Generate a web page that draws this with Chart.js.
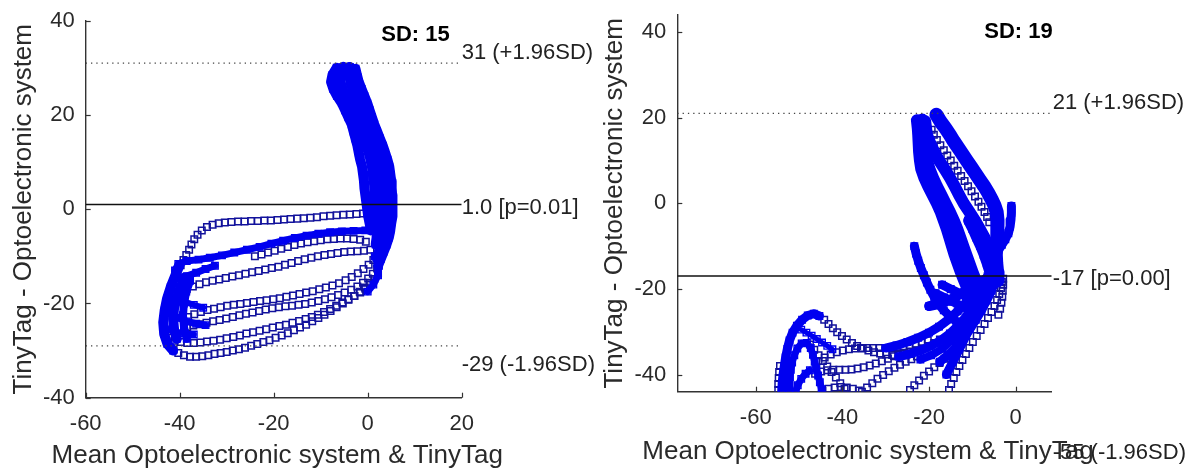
<!DOCTYPE html>
<html>
<head>
<meta charset="utf-8">
<script src="https://cdn.jsdelivr.net/npm/chart.js@4.4.1/dist/chart.umd.min.js"></script>
<style>
  html, body { margin: 0; padding: 0; background: #fff; }
  #wrap { position: relative; width: 1190px; height: 469px; overflow: hidden; background: #fff; }
  .panel { position: absolute; top: 0; width: 595px; height: 469px; }
  #pl { left: 0; }
  #pr { left: 595px; }
</style>
</head>
<body>
<div id="wrap">
  <div class="panel" id="pl"><canvas id="cl"></canvas></div>
  <div class="panel" id="pr"><canvas id="cr"></canvas></div>
</div>
<script>
// ---------- shared axis text ----------
const xTitle = 'Mean Optoelectronic system & TinyTag';
const yTitle = 'TinyTag - Optoelectronic system';

// ---------- left panel: scales and limits of agreement ----------
const leftXRange = [-60, 20];
const leftYRange = [-40, 40];
const leftXTicks = [-60, -40, -20, 0, 20];
const leftYTicks = [-40, -20, 0, 20, 40];
const leftMean = 1.0;
const leftUpper = 31;
const leftLower = -29;
const leftMeanText = '1.0 [p=0.01]';
const leftUpperText = '31 (+1.96SD)';
const leftLowerText = '-29 (-1.96SD)';
const leftSDText = 'SD: 15';

// left panel samples: dense upper arm
const leftArmA = [[-6.6,30],[-7.5,28.5],[-7.8,27],[-7.3,25.5],[-6.5,24],[-5.5,22.5],[-4.8,21],[-4.1,19.5],[-3.4,18],[-3.0,16.5],[-2.6,15],[-2.2,13.5],[-1.9,12],[-1.6,10.5],[-1.2,9],[-1.0,7.5],[-0.8,6],[-0.7,4.5],[-0.5,3],[-0.3,1.5],[-0.1,0],[0.1,-1.5],[0.4,-3],[0.7,-4.5]];
const leftArmB = [[-5.2,30.2],[-5.7,28.5],[-5.8,27],[-5.3,25.5],[-4.6,24],[-3.8,22.5],[-3.1,21],[-2.5,19.5],[-1.9,18],[-1.3,16.5],[-0.8,15],[-0.3,13.5],[0.2,12],[0.6,10.5],[0.9,9],[1.1,7.5],[1.3,6],[1.4,4.5],[1.5,3],[1.6,1.5],[1.7,0],[1.8,-1.5],[1.9,-3],[2.0,-4.5],[1.9,-6],[1.7,-7.5]];
const leftArmC = [[-3.8,30.2],[-3.9,28.5],[-3.7,27],[-3.2,25.5],[-2.6,24],[-1.9,22.5],[-1.3,21],[-0.7,19.5],[-0.1,18],[0.5,16.5],[1.0,15],[1.5,13.5],[2.0,12],[2.4,10.5],[2.8,9],[3.0,7.5],[3.2,6],[3.3,4.5],[3.4,3],[3.5,1.5],[3.5,0],[3.5,-1.5],[3.4,-3],[3.3,-4.5],[3.1,-6],[2.8,-7.5],[2.4,-9],[2.0,-10.5]];
const leftArmD = [[-2.6,29.8],[-2.3,28.5],[-1.9,27],[-1.3,25.5],[-0.7,24],[-0.1,22.5],[0.4,21],[0.9,19.5],[1.4,18],[2.0,16.5],[2.6,15],[3.2,13.5],[3.7,12],[4.2,10.5],[4.6,9],[4.8,7.5],[5.0,6],[5.1,4.5],[5.2,3],[5.3,1.5],[5.3,0],[5.2,-1.5],[5.0,-3],[4.8,-4.5],[4.5,-6],[4.0,-7.5],[3.4,-9],[2.8,-10.5],[2.2,-12]];
const leftTail = [[1.5,-10],[2.4,-12],[2.2,-14],[1.2,-16],[0,-17.5]];

// left panel samples: dense return band and left-hand turn
const leftBand = [[-41,-13],[-40.3,-11.6],[-38.5,-11],[-36,-10.7],[-33.6,-10.3],[-31,-9.8],[-28.4,-9.2],[-25.7,-8.6],[-23,-8],[-20.5,-7.3],[-18,-6.7],[-15.5,-6.1],[-13,-5.6],[-10.5,-5.2],[-8,-4.9],[-5.5,-4.7],[-3,-4.6],[-0.5,-4.5]];
const leftTurnA = [[-40.0,-11.8],[-40.9,-14],[-41.9,-16.5],[-42.7,-19],[-43.2,-21.5],[-43.5,-24],[-43.3,-26.5],[-42.6,-28.6],[-41.4,-30]];
const leftTurnB = [[-38.8,-14.5],[-39.8,-16.5],[-40.6,-18.8],[-41.2,-21],[-41.4,-23.3],[-41.2,-25.5],[-40.6,-27.5]];
const leftTurnC = [[-37.8,-15.2],[-38.6,-17.5],[-39.1,-20],[-39.3,-22.5],[-39.1,-25],[-38.5,-27.5]];
const leftKnotA = [[-40.5,-14.5],[-38.5,-14.2],[-36.5,-13.5],[-34.5,-12.7],[-32.5,-12]];
const leftKnotB = [[-42.5,-22],[-40.5,-23],[-38.5,-23.8],[-36.5,-24.3],[-34.5,-24.6]];
const leftKnotC = [[-43,-25.5],[-41,-26],[-39,-26.3],[-37,-26.6]];
const leftKnotD = [[-41,-19],[-39,-19.6],[-37,-20.3],[-35,-20.9]];

// left panel samples: open loops
const leftLoop1 = [[-1,-0.9],[-2.4,-1.0],[-3.8,-1.1],[-5.2,-1.2],[-6.6,-1.3],[-8,-1.4],[-9.4,-1.5],[-10.8,-1.7],[-12.2,-1.8],[-13.6,-1.9],[-15,-2.0],[-16.4,-2.1],[-17.8,-2.2],[-19.2,-2.3],[-20.6,-2.4],[-22,-2.4],[-23.4,-2.5],[-24.8,-2.5],[-26.2,-2.6],[-27.6,-2.6],[-29,-2.7],[-30.4,-2.8],[-31.7,-3.0],[-33,-3.3],[-34.2,-3.8],[-35.3,-4.5],[-36.2,-5.4],[-36.9,-6.4],[-37.5,-7.5],[-38,-8.6],[-38.6,-9.7],[-39.2,-10.8],[-39.8,-11.9]];
const leftLoop2 = [[-24,-10],[-22.6,-9.6],[-21.2,-9.2],[-19.8,-8.8],[-18.4,-8.4],[-17,-8],[-15.6,-7.6],[-14.2,-7.3],[-12.8,-7],[-11.4,-6.8],[-10,-6.6],[-8.6,-6.4],[-7.2,-6.3],[-5.8,-6.2],[-4.4,-6.2],[-3,-6.3],[-1.6,-6.5],[-0.4,-6.9]];
const leftLoop3 = [[0.6,-8.6],[-0.8,-8.8],[-2.2,-8.9],[-3.6,-9.0],[-5,-9.1],[-6.4,-9.3],[-7.8,-9.5],[-9.2,-9.7],[-10.6,-10.0],[-12,-10.3],[-13.4,-10.6],[-14.8,-11.0],[-16.2,-11.4],[-17.6,-11.8],[-19,-12.2],[-20.4,-12.5],[-21.8,-12.8],[-23.2,-13.1],[-24.6,-13.4],[-26,-13.7],[-27.4,-14.0],[-28.8,-14.3],[-30.2,-14.6],[-31.6,-14.9],[-33,-15.2],[-34.4,-15.5],[-35.8,-15.9],[-37.2,-16.4],[-38.5,-17]];
const leftLoop4 = [[1.2,-10.8],[0.2,-11.8],[-0.9,-12.7],[-2.1,-13.6],[-3.4,-14.4],[-4.7,-15.1],[-6.1,-15.7],[-7.5,-16.2],[-8.9,-16.6],[-10.3,-17.0],[-11.7,-17.4],[-13.1,-17.7],[-14.5,-18.0],[-15.9,-18.3],[-17.3,-18.6],[-18.7,-18.9],[-20.1,-19.1],[-21.5,-19.3],[-22.9,-19.5],[-24.3,-19.7],[-25.7,-19.9],[-27.1,-20.1],[-28.5,-20.3],[-29.9,-20.5],[-31.3,-20.8],[-32.7,-21.1],[-34.1,-21.4],[-35.5,-21.8],[-36.9,-22.3],[-38.2,-22.9]];
const leftLoop5 = [[2.0,-12.6],[1.1,-13.7],[0.1,-14.7],[-1,-15.6],[-2.2,-16.4],[-3.5,-17.1],[-4.9,-17.7],[-6.3,-18.2],[-7.7,-18.7],[-9.1,-19.1],[-10.5,-19.5],[-11.9,-19.8],[-13.3,-20.1],[-14.7,-20.3],[-16.1,-20.5],[-17.5,-20.6],[-18.9,-20.8],[-20.3,-21.0],[-21.7,-21.3],[-23.1,-21.6],[-24.5,-21.9],[-25.9,-22.2],[-27.3,-22.5],[-28.7,-22.9],[-30.1,-23.2],[-31.5,-23.5],[-32.9,-23.8],[-34.3,-24.1],[-35.7,-24.4],[-37.1,-24.7],[-38.4,-25]];
const leftLoop6 = [[2.2,-13.6],[1.4,-14.8],[0.5,-15.9],[-0.5,-16.9],[-1.6,-17.7],[-2.8,-18.4],[-4.1,-19.1],[-5.4,-19.8],[-6.7,-20.5],[-8,-21.2],[-9.3,-21.8],[-10.6,-22.4],[-11.9,-22.9],[-13.2,-23.3],[-14.6,-23.7],[-16,-24.1],[-17.4,-24.5],[-18.8,-24.8],[-20.2,-25.1],[-21.6,-25.5],[-23,-25.8],[-24.4,-26.1],[-25.8,-26.4],[-27.2,-26.8],[-28.6,-27.1],[-30,-27.4],[-31.4,-27.7],[-32.8,-27.9],[-34.2,-28.1],[-35.6,-28.3],[-37,-28.4],[-38.4,-28.4],[-39.8,-28.2],[-41.1,-27.9],[-42.3,-27.3]];
const leftLoop7 = [[0.5,-15.6],[-0.6,-16.6],[-1.7,-17.5],[-2.9,-18.4],[-4.1,-19.2],[-5.3,-20],[-6.6,-20.8],[-7.9,-21.6],[-9.2,-22.4],[-10.5,-23.1],[-11.8,-23.8],[-13.1,-24.5],[-14.4,-25.1],[-15.7,-25.7],[-17,-26.3],[-18.3,-26.8],[-19.6,-27.3],[-20.9,-27.8],[-22.2,-28.2],[-23.5,-28.6],[-24.8,-29],[-26.1,-29.4],[-27.4,-29.7],[-28.7,-30],[-30,-30.3],[-31.3,-30.5],[-32.6,-30.7],[-33.9,-31],[-35.2,-31.2],[-36.5,-31.3],[-37.8,-31.3],[-39.1,-31],[-40.3,-30.5],[-41.3,-29.8]];

// ---------- right panel: scales and limits of agreement ----------
const rightXRange = [-78.1, 8.3];
const rightYRange = [-44, 44];
const rightXTicks = [-60, -40, -20, 0];
const rightYTicks = [-40, -20, 0, 20, 40];
const rightMean = -17;
const rightUpper = 21;
const rightLower = -55;
const rightMeanText = '-17 [p=0.00]';
const rightUpperText = '21 (+1.96SD)';
const rightLowerText = '-55 (-1.96SD)';
const rightSDText = 'SD: 19';

// right panel samples: dense diagonal bands
const rightBandA = [[-22.8,19.4],[-22.6,17.5],[-22.5,16],[-22.4,14],[-22.3,12],[-22.1,10],[-21.8,8],[-21.1,6],[-20.2,4],[-19.2,2],[-18.2,0],[-17.3,-2],[-16.6,-4],[-15.9,-6],[-15.3,-8],[-14.7,-10],[-14.1,-12],[-13.4,-14],[-12.7,-16],[-11.9,-18],[-11.1,-20],[-10.3,-22],[-9.6,-24]];
const rightBandB = [[-21.6,19.6],[-21.8,16],[-21.4,14],[-21.0,12],[-20.5,10],[-19.9,8],[-19.1,6],[-18.2,4],[-17.2,2],[-16.2,0],[-15.2,-2],[-14.3,-4],[-13.5,-6],[-12.8,-8],[-12.1,-10],[-11.4,-12],[-10.7,-14],[-10,-16],[-9.2,-18],[-8.4,-20],[-7.6,-22]];
const rightBandC = [[-20.9,19.2],[-20.5,16],[-19.7,14],[-18.8,12],[-17.7,10],[-16.4,8],[-15.2,6],[-14.1,4],[-13.1,2],[-12.0,0],[-10.7,-2],[-9.4,-4],[-8.3,-6],[-7.2,-8],[-6.4,-10],[-5.8,-12],[-5.3,-14],[-5.0,-16],[-4.8,-18.5]];
const rightBandE = [[-11.0,-4],[-10.0,-6],[-9.1,-8],[-8.2,-10],[-7.4,-12],[-6.7,-14],[-6.1,-16]];
const rightBandD = [[-18.3,20.7],[-17.3,19],[-16.2,17.5],[-15.2,16],[-14.3,14.5],[-13.3,13],[-12.3,11.5],[-11.3,10],[-10.3,8.5],[-9.3,7],[-8.3,5.5],[-7.3,4],[-6.4,2.5],[-5.6,1],[-4.9,-0.5],[-4.4,-2],[-4.2,-4],[-4.2,-6],[-4.3,-8],[-4.5,-10],[-4.6,-12],[-4.5,-14],[-4.3,-16],[-4.2,-18]];
const rightHook = [[-1.0,-0.6],[-1.0,-2.2],[-1.1,-3.8],[-1.3,-5.4],[-1.7,-7],[-2.4,-8.4],[-3.2,-9.7],[-4.0,-11]];
const rightStrand = [[-23.4,-10],[-23.0,-11.7],[-22.5,-13.4],[-21.9,-15.1],[-21.2,-16.8],[-20.5,-18.5],[-19.7,-20.2],[-18.8,-21.9],[-17.8,-23.5],[-16.6,-25],[-15.2,-26.4],[-13.7,-27.6]];
const rightFanA = [[-30,-33.8],[-27.5,-33.2],[-25,-32.4],[-22.5,-31.4],[-20,-30.2],[-17.7,-28.8],[-15.5,-27.1],[-13.4,-25.2],[-11.5,-23.2],[-9.7,-21.1],[-8,-19],[-6.5,-17]];
const rightFanB = [[-27,-35.8],[-24.5,-35.2],[-22,-34.4],[-19.6,-33.3],[-17.3,-32],[-15.2,-30.4],[-13.2,-28.5],[-11.4,-26.4],[-9.7,-24.2],[-8.2,-22],[-6.8,-19.7],[-5.6,-17.4]];
const rightFanC = [[-17.5,-37],[-15.6,-35.4],[-13.8,-33.6],[-12.1,-31.6],[-10.6,-29.4],[-9.2,-27.2],[-7.9,-25],[-6.7,-22.7],[-5.6,-20.4],[-4.7,-18.1]];
const rightFanD = [[-20,-24],[-17.5,-23.5],[-15,-22.5],[-12.5,-21],[-10,-19.5],[-7.5,-18],[-5,-17]];
const rightFanE = [[-16,-40],[-14.5,-37],[-13,-34],[-11.5,-31],[-10,-28],[-8.5,-25],[-7,-22],[-5.5,-19.5]];
const rightFanF = [[-22,-36.5],[-19.5,-35.5],[-17,-34],[-14.8,-32],[-12.8,-29.8],[-11,-27.5],[-9.4,-25],[-8,-22.5],[-6.5,-20]];
const rightFanG = [[-18.5,-21],[-16.5,-22],[-14.5,-23],[-12.5,-24],[-10.5,-25]];
const rightFanH = [[-17,-19],[-15,-20],[-13,-21],[-11,-22],[-9,-22.5]];
const rightArchOuter = [[-54,-44],[-53.9,-42],[-53.7,-40],[-53.4,-38],[-53.1,-36],[-52.7,-34],[-52.2,-32],[-51.5,-30.2],[-50.5,-28.6],[-49.3,-27.2],[-48,-26.2],[-46.6,-25.8],[-45.3,-26.3]];
const rightArchInner = [[-52.2,-44],[-52.2,-42.3],[-52.1,-40.6],[-51.9,-38.9],[-51.6,-37.2],[-51.1,-35.5],[-50.4,-33.9],[-49.4,-32.7],[-48.2,-32.6],[-47.3,-33.8],[-46.8,-35.4],[-46.4,-37],[-46,-38.6],[-45.6,-40.2],[-45.2,-41.8],[-44.8,-43.4]];
const rightArchBase = [[-50.8,-44],[-50.3,-42.5],[-49.5,-41],[-48.5,-39.8],[-47.5,-39]];
const rightArchCross = [[-49.5,-29.5],[-48.3,-30.2],[-47.1,-30.9],[-45.9,-31.7],[-44.7,-32.5],[-43.5,-33.3],[-42.3,-34.1]];

// right panel samples: open trails
const rightChain = [[-19.4,17.2],[-18.9,16],[-18.2,14.8],[-17.4,13.6],[-16.6,12.4],[-15.8,11.2],[-15.0,10],[-14.2,8.8],[-13.4,7.6],[-12.6,6.4],[-11.8,5.2],[-11.0,4],[-10.2,2.8],[-9.4,1.6],[-8.6,0.4],[-7.9,-0.8],[-7.2,-2],[-6.6,-3.2],[-6.1,-4.4]];
const rightEdge = [[-2.9,-17.6],[-2.9,-19],[-3,-20.4],[-3.1,-21.8],[-3.3,-23.2],[-3.6,-24.6],[-4,-26]];
const rightDescent = [[-15.4,-43.6],[-14.9,-42.2],[-14.3,-40.8],[-13.7,-39.4],[-13,-38],[-12.3,-36.6],[-11.5,-35.2],[-10.7,-33.8],[-9.9,-32.4],[-9,-31],[-8.1,-29.6],[-7.2,-28.2],[-6.4,-26.8],[-5.6,-25.4],[-4.9,-24],[-4.3,-22.6],[-3.8,-21.2],[-3.4,-19.8],[-3.2,-18.4]];
const rightArchTrail = [[-44.2,-27.2],[-43.2,-28.2],[-42.2,-29.2],[-41.2,-30.1],[-40.1,-31],[-39,-31.8],[-37.8,-32.6],[-36.6,-33.3],[-35.3,-33.9],[-34,-34.4],[-32.7,-34.8],[-31.3,-35.1],[-29.9,-35.3],[-28.5,-35.4],[-27.1,-35.3],[-25.7,-35.1],[-24.3,-34.8],[-22.9,-34.4],[-21.5,-33.9],[-20.1,-33.3],[-18.8,-32.6],[-17.5,-31.8]];
const rightOuterEdge = [[-54.8,-43.6],[-54.8,-42.2],[-54.7,-40.8],[-54.6,-39.4],[-54.4,-38]];
const rightTrailA = [[-45.5,-36.8],[-44.1,-36],[-42.7,-35.3],[-41.3,-34.8],[-39.9,-34.4],[-38.5,-34.1],[-37.1,-33.9],[-35.7,-33.8],[-34.3,-33.8],[-32.9,-33.8],[-31.5,-33.8],[-30.1,-33.8],[-28.7,-33.7],[-27.3,-33.6],[-25.9,-33.4],[-24.5,-33.1],[-23.1,-32.8],[-21.7,-32.4],[-20.3,-32]];
const rightTrailB = [[-46.3,-39.8],[-44.9,-39.3],[-43.5,-39],[-42.1,-38.9],[-40.7,-38.9],[-39.3,-38.9],[-37.9,-38.8],[-36.5,-38.6],[-35.1,-38.3],[-33.7,-37.9],[-32.3,-37.4],[-30.9,-36.9],[-29.5,-36.3],[-28.1,-35.7],[-26.7,-35.1]];
const rightTrailC = [[-47.5,-33],[-46.5,-34.2],[-45.5,-35.5],[-44.5,-36.8],[-43.5,-38.1],[-42.5,-39.4],[-41.5,-40.7],[-40.5,-42],[-39.5,-43.3]];
const rightTrailD = [[-44.6,-43.8],[-43.2,-43.3],[-41.8,-43],[-40.4,-42.9],[-39,-43],[-37.6,-43.3],[-36.2,-43.7]];
const rightTrailE = [[-35.5,-44],[-34.3,-43],[-33.1,-42],[-31.9,-41],[-30.6,-40.1],[-29.3,-39.2],[-28,-38.4],[-26.7,-37.7],[-25.4,-37],[-24.1,-36.4],[-22.8,-35.8]];
const rightTrailF = [[-24.4,-43.6],[-23.4,-42.5],[-22.3,-41.4],[-21.2,-40.3],[-20,-39.3],[-18.8,-38.3],[-17.6,-37.3],[-16.4,-36.3],[-15.2,-35.3]];

// ---------- drawing ----------
const FONT = '"Liberation Sans", Arial, Helvetica, sans-serif';
const BLUE = '#0000f0';
const SQUARE = '#12129c';
const TEXT = '#2a2a2a';
const AXIS = '#333333';

const toXY = pts => pts.map(([x, y]) => ({ x, y }));

function denseSet(pts, width) {
  return {
    data: toXY(pts), showLine: true, borderColor: BLUE, borderWidth: width,
    borderJoinStyle: 'round', borderCapStyle: 'round', tension: 0,
    pointStyle: 'rect', pointRadius: 4.6, pointBorderWidth: 1.4,
    pointBorderColor: BLUE, pointBackgroundColor: 'rgba(0,0,0,0)', clip: 0
  };
}
function sparseSet(pts) {
  return {
    data: toXY(pts), showLine: false,
    pointStyle: 'rect', pointRadius: 4.6, pointBorderWidth: 1.5,
    pointBorderColor: SQUARE, pointBackgroundColor: 'rgba(0,0,0,0)', clip: 0
  };
}

// limits of agreement, inward tick marks, axis titles and value labels
const agreementPlugin = {
  id: 'agreement',
  afterDatasetsDraw(chart, args, o) {
    const { ctx, chartArea: a, scales: { x, y } } = chart;
    ctx.save();
    ctx.beginPath();
    ctx.rect(a.left, a.top, a.right - a.left, a.bottom - a.top);
    ctx.clip();
    const hline = (v, dash, color, w) => {
      const py = y.getPixelForValue(v);
      ctx.beginPath();
      ctx.setLineDash(dash);
      ctx.strokeStyle = color;
      ctx.lineWidth = w;
      ctx.moveTo(a.left, py);
      ctx.lineTo(a.right, py);
      ctx.stroke();
    };
    hline(o.upper, [1.3, 4], '#444', 1.3);
    hline(o.lower, [1.3, 4], '#444', 1.3);
    hline(o.mean, [], '#111', 1.5);
    ctx.restore();

    ctx.save();
    ctx.strokeStyle = AXIS;
    ctx.lineWidth = 1.2;
    x.ticks.forEach(t => {
      const px = Math.round(x.getPixelForValue(t.value)) + 0.5;
      ctx.beginPath(); ctx.moveTo(px, a.bottom); ctx.lineTo(px, a.bottom - 5); ctx.stroke();
    });
    y.ticks.forEach(t => {
      const py = Math.round(y.getPixelForValue(t.value)) + 0.5;
      ctx.beginPath(); ctx.moveTo(a.left, py); ctx.lineTo(a.left + 5, py); ctx.stroke();
    });

    // axis titles
    ctx.fillStyle = TEXT;
    ctx.font = `26px ${FONT}`;
    ctx.textAlign = 'center';
    ctx.textBaseline = 'middle';
    ctx.fillText(xTitle, (a.left + a.right) / 2 + o.xTitleDx, o.xTitleY);
    ctx.save();
    ctx.translate(o.yTitleX, (a.top + a.bottom) / 2);
    ctx.rotate(-Math.PI / 2);
    ctx.fillText(yTitle, 0, 0);
    ctx.restore();

    // limit labels
    ctx.fillStyle = '#222';
    ctx.font = `22px ${FONT}`;
    ctx.textAlign = 'left';
    ctx.fillText(o.upperText, a.right + o.labelDx, y.getPixelForValue(o.upper) + o.upperDy);
    ctx.fillText(o.meanText, a.right + o.labelDx, y.getPixelForValue(o.mean) + o.meanDy);
    ctx.fillText(o.lowerText, a.right + o.labelDx, y.getPixelForValue(o.lower) + o.lowerDy);

    ctx.fillStyle = '#000';
    ctx.font = `bold 22px ${FONT}`;
    ctx.textAlign = 'right';
    ctx.fillText(o.sdText, a.right + o.sdDx, a.top + o.sdDy);
    ctx.restore();
  }
};

function makePanel(id, p) {
  const datasets = [
    ...p.dense.map(([pts, w]) => denseSet(pts, w)),
    ...p.sparse.map(pts => sparseSet(pts))
  ];
  return new Chart(document.getElementById(id), {
    type: 'scatter',
    data: { datasets },
    options: {
      responsive: true, maintainAspectRatio: false, animation: false,
      devicePixelRatio: 1, events: [],
      layout: { padding: p.pad },
      plugins: { legend: { display: false }, tooltip: { enabled: false }, agreement: p.agreement },
      scales: {
        x: {
          type: 'linear', min: p.xRange[0], max: p.xRange[1],
          afterBuildTicks: s => { s.ticks = p.xTicks.map(v => ({ value: v })); },
          afterFit: s => { s.height = p.xAxisHeight; s.paddingLeft = 0; s.paddingRight = 0; },
          grid: { display: false, drawTicks: false },
          border: { display: true, color: AXIS, width: 1.4 },
          ticks: { padding: 13, color: TEXT, autoSkip: false, maxRotation: 0,
                   font: { size: 22, family: FONT }, callback: v => String(v) }
        },
        y: {
          type: 'linear', min: p.yRange[0], max: p.yRange[1],
          afterBuildTicks: s => { s.ticks = p.yTicks.map(v => ({ value: v })); },
          afterFit: s => { s.width = p.yAxisWidth; s.paddingTop = 0; s.paddingBottom = 0; },
          grid: { display: false, drawTicks: false },
          border: { display: true, color: AXIS, width: 1.4 },
          ticks: { padding: 11, color: TEXT, autoSkip: false,
                   font: { size: 22, family: FONT }, callback: v => String(v) }
        }
      }
    },
    plugins: [agreementPlugin]
  });
}

makePanel('cl', {
  xRange: leftXRange, yRange: leftYRange, xTicks: leftXTicks, yTicks: leftYTicks,
  pad: { left: 0, right: 133.3, top: 20.7, bottom: 0 },
  xAxisHeight: 71.3, yAxisWidth: 85.7,
  dense: [[leftArmA, 10], [leftArmB, 10], [leftArmC, 10], [leftArmD, 10], [leftTail, 7],
          [leftBand, 7], [leftTurnA, 10], [leftTurnB, 10], [leftTurnC, 8],
          [leftKnotA, 7], [leftKnotB, 7], [leftKnotC, 6], [leftKnotD, 6]],
  sparse: [leftLoop1, leftLoop2, leftLoop3, leftLoop4, leftLoop5, leftLoop6, leftLoop7],
  agreement: {
    mean: leftMean, upper: leftUpper, lower: leftLower,
    meanText: leftMeanText, upperText: leftUpperText, lowerText: leftLowerText, sdText: leftSDText,
    labelDx: 0, upperDy: -10, meanDy: 3, lowerDy: 19, sdDx: -12, sdDy: 14,
    xTitleDx: 3.5, xTitleY: 456, yTitleX: 24
  }
});

makePanel('cr', {
  xRange: rightXRange, yRange: rightYRange, xTicks: rightXTicks, yTicks: rightYTicks,
  pad: { left: 0, right: 138.3, top: 15, bottom: 0 },
  xAxisHeight: 77.3, yAxisWidth: 82.3,
  dense: [[rightBandA, 12], [rightBandB, 12], [rightBandC, 12], [rightBandE, 10], [rightBandD, 14],
          [rightHook, 9], [rightStrand, 9],
          [rightFanA, 9], [rightFanB, 9], [rightFanC, 9], [rightFanD, 10], [rightFanE, 9], [rightFanF, 8],
          [rightFanG, 9], [rightFanH, 9],
          [rightArchOuter, 9], [rightArchInner, 7], [rightArchBase, 7], [rightArchCross, 5]],
  sparse: [rightChain, rightEdge, rightDescent, rightArchTrail, rightOuterEdge,
           rightTrailA, rightTrailB, rightTrailC, rightTrailD, rightTrailE, rightTrailF],
  agreement: {
    mean: rightMean, upper: rightUpper, lower: rightLower,
    meanText: rightMeanText, upperText: rightUpperText, lowerText: rightLowerText, sdText: rightSDText,
    labelDx: 1, upperDy: -10.5, meanDy: 3, lowerDy: 14, sdDx: 1, sdDy: 17,
    xTitleDx: 3.5, xTitleY: 452, yTitleX: 20
  }
});
</script>
</body>
</html>
